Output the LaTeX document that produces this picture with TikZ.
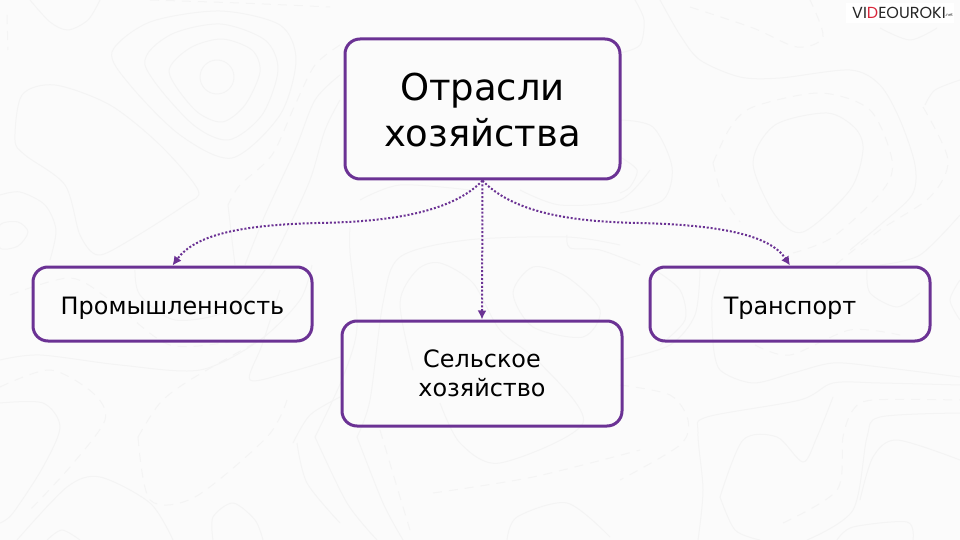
\documentclass[tikz,border=0pt]{standalone}
\usepackage{fontspec}
\setmainfont{DejaVu Sans}
\newfontfamily\logofont{Poppins}
\usetikzlibrary{arrows.meta}
\definecolor{pur}{HTML}{6B3294}
\definecolor{bgc}{HTML}{FBFBFB}
\definecolor{cont}{HTML}{F4F4F4}
\definecolor{logored}{HTML}{D9263A}
\tikzset{
 box/.style={draw=pur,line width=3pt,rounded corners=15pt,fill=none,align=center,inner sep=0pt,text=black},
 link/.style={draw=pur,line width=2pt,dash pattern=on 2pt off 1.9pt,-{Latex[length=9pt,width=9pt]}},
 contour/.style={draw=cont,line width=1pt},
 dcontour/.style={draw=cont,line width=1pt,dash pattern=on 9pt off 7pt}
}
\begin{document}
\begin{tikzpicture}[x=1pt,y=-1pt]
\useasboundingbox (0,0) rectangle (960,540);
\fill[bgc] (0,0) rectangle (960,540);
% top-left contours
\draw[contour] (217,77) circle[radius=17];
\draw[contour] plot[smooth cycle] coordinates {(169,72) (190,48) (222,39) (252,50) (260,72) (245,105) (222,122) (195,110)};
\draw[contour] plot[smooth cycle] coordinates {(145,65) (170,35) (220,24) (265,40) (278,70) (262,115) (228,140) (190,122)};
\draw[contour] plot[smooth cycle] coordinates {(112,52) (150,22) (220,11) (280,25) (296,60) (280,115) (232,158) (180,135) (130,85)};
\draw[contour] plot[smooth cycle] coordinates {(15,140) (22,95) (55,85) (110,105) (160,145) (198,190) (185,205) (130,240) (98,255) (80,235) (65,185) (25,155)};
\draw[contour] plot[smooth] coordinates {(30,0) (50,22) (68,30) (88,20) (100,0)};
\draw[contour] plot[smooth] coordinates {(0,195) (20,192) (45,205) (56,230) (50,260)};
\draw[contour] plot[smooth cycle] coordinates {(0,225) (18,222) (28,232) (18,246) (0,248)};
\draw[dcontour] plot[smooth] coordinates {(7,15) (8,50)};
\draw[dcontour] plot[smooth] coordinates {(340,45) (315,65) (295,105) (272,155) (240,185) (228,205)};
\draw[contour] plot[smooth] coordinates {(228,205) (232,240) (235,265)};
\draw[contour] plot[smooth] coordinates {(340,75) (315,100) (295,150) (265,215) (245,265)};
\draw[contour] plot[smooth] coordinates {(340,100) (325,130) (310,180) (285,235) (270,265)};
\draw[dcontour] plot[smooth] coordinates {(150,0) (240,3) (330,7)};
% top-right contours
\draw[contour] plot[smooth cycle] coordinates {(827,113) (855,128) (863,150) (850,190) (803,232) (775,215) (753,163) (775,125)};
\draw[dcontour] plot[smooth] coordinates {(713,163) (730,128) (753,107) (820,93) (870,110) (892,160) (883,190) (833,237) (793,253)};
\draw[dcontour] plot[smooth] coordinates {(713,163) (722,195) (740,222)};
\draw[contour] plot[smooth] coordinates {(660,0) (680,35) (700,60) (740,77) (780,78) (850,70) (880,85) (900,120) (915,165) (912,195) (880,225) (850,250)};
\draw[dcontour] plot[smooth] coordinates {(923,107) (948,160) (930,197) (880,230) (835,265)};
\draw[dcontour] plot[smooth] coordinates {(690,7) (753,28) (797,47) (823,37) (810,0)};
\draw[contour] plot[smooth] coordinates {(880,28) (910,40) (937,28)};
\draw[contour] plot[smooth] coordinates {(960,80) (935,90) (925,105)};
\draw[contour] plot[smooth] coordinates {(620,120) (653,127) (672,167) (663,200) (620,213)};
\draw[contour] plot[smooth] coordinates {(620,157) (637,170) (630,187) (620,193)};
\draw[contour] plot[smooth] coordinates {(620,53) (640,45) (644,20) (635,0)};
\draw[contour] plot[smooth] coordinates {(880,265) (920,255) (960,215)};
% bottom-left contours
\draw[dcontour] plot[smooth] coordinates {(138,437) (150,500) (195,497) (267,437) (287,400)};
\draw[dcontour] plot[smooth] coordinates {(138,437) (160,403) (190,380) (260,340)};
\draw[contour] plot[smooth] coordinates {(0,403) (43,403) (60,427) (43,467) (13,513) (0,523)};
\draw[dcontour] plot[smooth] coordinates {(0,387) (50,370) (93,393) (105,420) (70,467) (30,510)};
\draw[contour] plot[smooth] coordinates {(17,540) (67,487) (100,477) (150,503) (173,540)};
\draw[contour] plot[smooth] coordinates {(213,540) (213,517) (233,503) (255,520) (263,540)};
\draw[contour] plot[smooth] coordinates {(47,540) (62,530) (80,540)};
\draw[contour] plot[smooth] coordinates {(293,443) (310,415) (340,397)};
\draw[contour] plot[smooth] coordinates {(297,443) (307,483) (340,523)};
\draw[contour] plot[smooth] coordinates {(340,357) (290,372) (250,380) (262,345) (280,290)};
\draw[contour] plot[smooth] coordinates {(0,360) (40,355) (120,365) (200,370) (260,340) (300,300) (312,265)};
\draw[dcontour] plot[smooth] coordinates {(10,295) (70,278) (110,300) (170,345) (240,340)};
\draw[contour] plot[smooth] coordinates {(135,270) (140,295) (175,320) (230,310) (265,270)};
% bottom-right contours
\draw[contour] plot[smooth] coordinates {(698,540) (703,490) (698,433) (707,417) (800,400) (833,383) (880,383) (960,385)};
\draw[contour] plot[smooth] coordinates {(713,343) (720,370) (753,383) (793,373) (833,363) (880,367) (960,377)};
\draw[contour] plot[smooth] coordinates {(720,497) (743,440) (777,437) (803,462) (817,437) (833,397)};
\draw[contour] plot[smooth] coordinates {(720,497) (735,530) (760,540)};
\draw[contour] plot[smooth] coordinates {(860,500) (873,457) (897,440) (960,460)};
\draw[contour] plot[smooth] coordinates {(807,540) (853,510) (867,437) (880,417) (960,413)};
\draw[dcontour] plot[smooth] coordinates {(783,523) (837,490) (843,437) (853,410) (873,400) (960,400)};
\draw[contour] plot[smooth] coordinates {(837,540) (853,527) (907,522) (913,540)};
\draw[contour] plot[smooth] coordinates {(867,270) (870,293) (897,307) (920,293)};
\draw[contour] plot[smooth] coordinates {(660,345) (685,320) (680,290) (655,270)};
\draw[contour] plot[smooth] coordinates {(700,270) (695,315) (670,345) (620,360)};
\draw[contour] plot[smooth] coordinates {(713,343) (712,300) (720,270)};
\draw[dcontour] plot[smooth] coordinates {(620,385) (670,395) (688,420) (680,445) (620,480)};
\draw[contour] plot[smooth] coordinates {(960,320) (950,300) (960,280)};
\draw[dcontour] plot[smooth] coordinates {(755,345) (790,355) (850,330) (900,335)};
% centre contours
\draw[contour] plot[smooth] coordinates {(315,437) (343,377) (357,327) (350,253) (350,227)};
\draw[contour] plot[smooth] coordinates {(315,437) (347,503) (377,540)};
\draw[contour] plot[smooth] coordinates {(357,437) (383,503) (403,540)};
\draw[contour] plot[smooth] coordinates {(357,437) (370,400) (383,303) (400,257) (467,240) (567,237) (620,245)};
\draw[contour] plot[smooth] coordinates {(413,370) (400,303) (417,270) (440,263) (473,283) (500,330) (540,363) (583,423) (500,463) (460,443) (440,403)};
\draw[contour] plot[smooth cycle] coordinates {(513,293) (533,267) (567,277) (600,310) (583,337) (533,327)};
\draw[dcontour] plot[smooth] coordinates {(433,493) (533,477) (640,450)};
\draw[dcontour] plot[smooth] coordinates {(380,430) (397,487) (410,530)};
\draw[contour] plot[smooth] coordinates {(507,540) (517,517) (567,503) (610,537)};
\draw[contour] plot[smooth] coordinates {(567,235) (570,248) (600,250) (640,265)};
\draw[contour] plot[smooth] coordinates {(360,200) (400,185) (470,190)};
\draw[contour] plot[smooth] coordinates {(520,190) (560,205) (620,200) (650,170)};

\node[box,minimum width=275pt,minimum height=140pt,font=\fontsize{37}{46}\selectfont] (top) at (482.5,109) {\rule{0pt}{30pt}Отрасли\\хозяйства};
\node[box,minimum width=279pt,minimum height=74pt,font=\fontsize{23.9}{29}\selectfont] (ind) at (172.5,304) {\raisebox{-10pt}[0pt][0pt]{Промышленность}};
\node[box,minimum width=280pt,minimum height=105pt,font=\fontsize{23.9}{29}\selectfont] (agr) at (482,373.5) {Сельское\\хозяйство};
\node[box,minimum width=280pt,minimum height=74pt,font=\fontsize{23.9}{29}\selectfont] (tra) at (790,304) {\raisebox{-10pt}[0pt][0pt]{Транспорт}};
\coordinate (lm) at (317,223);
\coordinate (rm) at (640,223);

\draw[link] (top.south) .. controls (450,215) and (380,222) .. (lm) .. controls (240,225) and (195,235) .. (ind.north);
\draw[link] (top.south) -- (agr.north);
\draw[link] (top.south) .. controls (515,215) and (580,222) .. (rm) .. controls (720,225) and (770,235) .. (tra.north);

\node[fill=white,inner sep=0pt,minimum width=108pt,minimum height=20pt,anchor=west] (logobg) at (846,13) {};
\node[font=\logofont\fontsize{16}{18}\selectfont,text=black!85,inner sep=0pt,anchor=west] (logo) at (852,13) {VI\textcolor{logored}{D}EOUROKI};
\node[font=\fontsize{4}{5}\selectfont,text=black!85,inner sep=0pt,anchor=west] (net) at (945,15) {.net};
\end{tikzpicture}
\end{document}
